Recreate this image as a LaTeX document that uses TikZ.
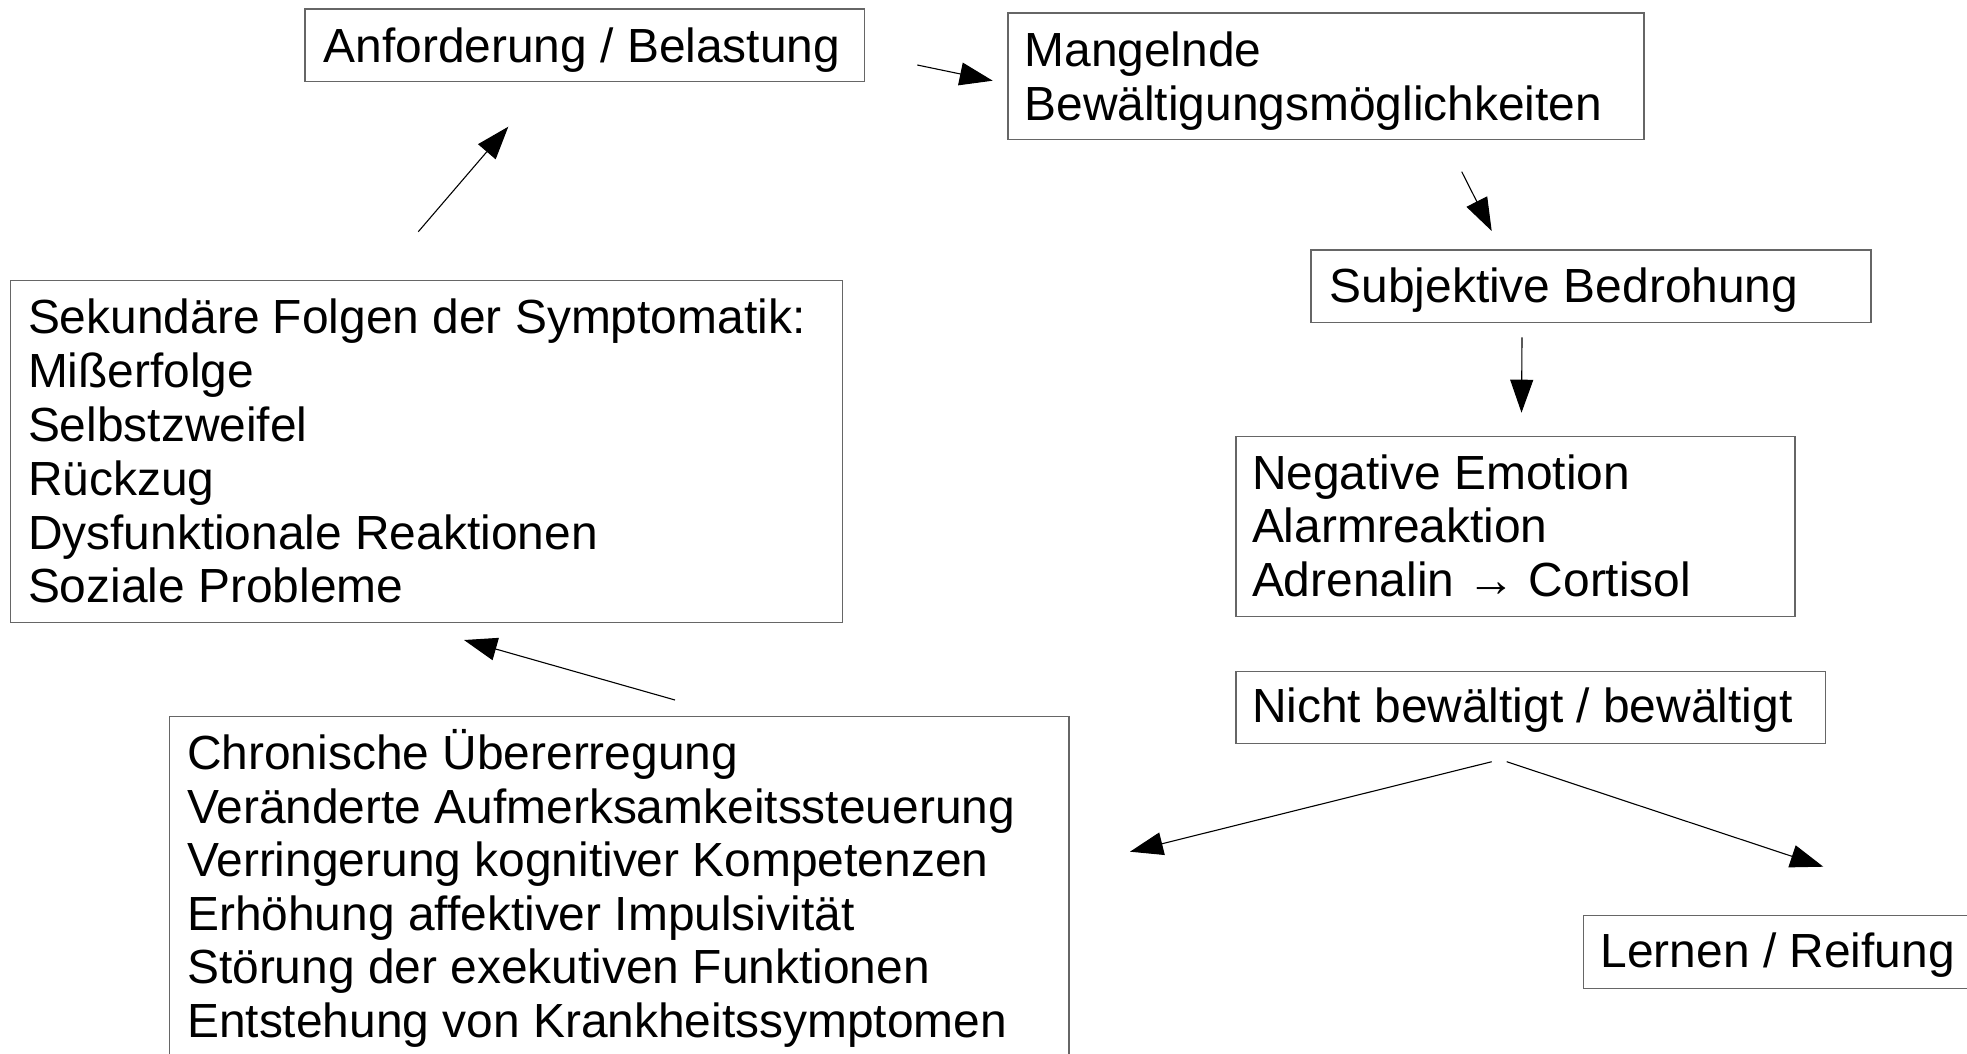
\documentclass[tikz,border=0pt]{standalone}
\usepackage{fontspec}
\setmainfont{Liberation Sans}
\usetikzlibrary{arrows.meta}
\definecolor{boxline}{gray}{0.4}
\tikzset{
  box/.style={draw=boxline, line width=1.3pt, fill=none, inner sep=0pt, anchor=north west, rectangle},
  txt/.style={inner sep=0pt, anchor=base west, font=\fontsize{47.9pt}{53.6pt}\selectfont},
  arr/.style={draw=black, line width=1.1pt, -{Triangle[length=33pt,width=23pt]}}
}
\begin{document}
\begin{tikzpicture}[x=1pt,y=-1pt]
\useasboundingbox (0,0) rectangle (1967,1053);
\clip (0,0) rectangle (1967,1053);
\fill[white] (0,0) rectangle (1967,1053);

% boxes
\node[box, minimum width=559.9pt, minimum height=72.4pt] (anf) at (304.2,8.3) {};
\node[box, minimum width=635.8pt, minimum height=126.7pt] (mang) at (1007.4,12.3) {};
\node[box, minimum width=560pt, minimum height=72.4pt] (subj) at (1310.2,249.3) {};
\node[box, minimum width=559.2pt, minimum height=180.2pt] (neg) at (1235.2,435.9) {};
\node[box, minimum width=589.3pt, minimum height=72.2pt] (nicht) at (1235.2,670.5) {};
\node[box, minimum width=832.1pt, minimum height=341.7pt] (sek) at (9.9,280) {};
\node[box, minimum width=899.3pt, minimum height=345pt] (chron) at (169.1,715.7) {};
\node[box, minimum width=400pt, minimum height=73pt] (lern) at (1582.6,915) {};

% texts
\node[txt] (anf-t) at (323.4,62) {Anforderung / Belastung};
\foreach \t [count=\i from 0] in {Mangelnde, Bewältigungsmöglichkeiten}
  \node[txt] (mang-\i) at (1024.3,{66.5+\i*53.6}) {\t};
\node[txt] (subj-t) at (1329.4,302.7) {Subjektive Bedrohung};
\foreach \t [count=\i from 0] in {Negative Emotion, Alarmreaktion, Adrenalin → Cortisol}
  \node[txt] (neg-\i) at (1251.8,{489+\i*53.8}) {\t};
\node[txt] (nicht-t) at (1251.8,722.8) {Nicht bewältigt / bewältigt};
\foreach \t [count=\i from 0] in {Sekundäre Folgen der Symptomatik:, Mißerfolge, Selbstzweifel, Rückzug, Dysfunktionale Reaktionen, Soziale Probleme}
  \node[txt] (sek-\i) at (27.8,{333.8+\i*53.8}) {\t};
\foreach \t [count=\i from 0] in {Chronische Übererregung, Veränderte Aufmerksamkeitssteuerung, Verringerung kognitiver Kompetenzen, Erhöhung affektiver Impulsivität, Störung der exekutiven Funktionen, Entstehung von Krankheitssymptomen}
  \node[txt] (chron-\i) at (186.9,{769.5+\i*53.5}) {\t};
\node[txt] (lern-t) at (1600.4,967.5) {Lernen / Reifung};

% connector end points
\coordinate (a1s) at (418.3,231.7);  \coordinate (a1e) at (508.3,126.7);
\coordinate (a2s) at (917.3,65);     \coordinate (a2e) at (992.7,80.7);
\coordinate (a3s) at (1461.7,171.7); \coordinate (a3e) at (1491.7,231);
\coordinate (a4s) at (1522,337.3);   \coordinate (a4e) at (1521.5,412.7);
\coordinate (a5s) at (1491.7,761.7); \coordinate (a5e) at (1130,851.7);
\coordinate (a6s) at (1506.7,761.7); \coordinate (a6e) at (1823.3,866.7);
\coordinate (a7s) at (675,700);      \coordinate (a7e) at (464,640);

% connectors
\draw[arr] (a1s) -- (a1e);
\draw[arr] (a2s) -- (a2e);
\draw[arr] (a3s) -- (a3e);
\draw[arr] (a4s) -- (a4e);
\draw[arr] (a5s) -- (a5e);
\draw[arr] (a6s) -- (a6e);
\draw[arr] (a7s) -- (a7e);
\end{tikzpicture}
\end{document}
